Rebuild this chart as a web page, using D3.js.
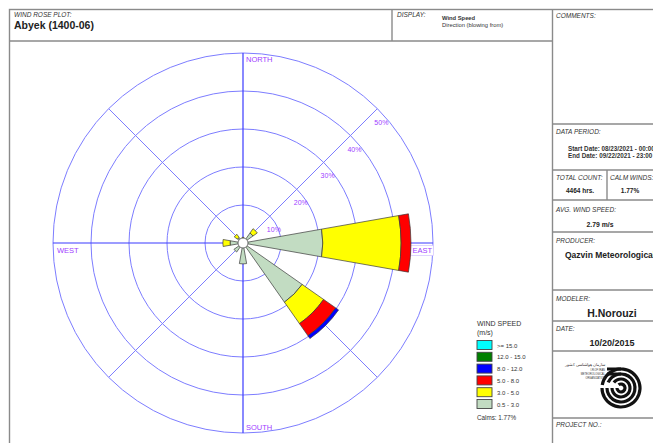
<!DOCTYPE html>
<html>
<head>
<meta charset="utf-8">
<script src="https://cdn.jsdelivr.net/npm/d3@7"></script>
<style>
  body { margin: 0; background: #fff; }
  svg { display: block; font-family: "Liberation Sans", Arial, sans-serif; }
</style>
</head>
<body>
<div class="main"></div>
<script>
const w = 653;
const h = 443;

// 16 compass sectors, clockwise from north
const directions = ["N", "NNE", "NE", "ENE", "E", "ESE", "SE", "SSE",
                    "S", "SSW", "SW", "WSW", "W", "WNW", "NW", "NNW"];

// frequency (%) per speed class and direction
const speed05to3  = [1.0, 0.3, 3.2, 0.4, 21.0, 0.4, 19.0, 0.5, 5.5, 0.3, 2.9, 0.4, 3.4, 0.3, 1.8, 0.5];
const speed3to5   = [0.5, 0,   1.4, 0,   20.6, 0,   6.9,  0,   0,   0,   0,   0,   1.9, 0,   1.0, 0];
const speed5to8   = [0,   0,   0,   0,   2.6,  0,   3.9,  0,   0,   0,   0,   0,   0,   0,   0,   0];
const speed8to12  = [0,   0,   0,   0,   0,    0,   0.9,  0,   0,   0,   0,   0,   0,   0,   0,   0];
const speed12to15 = [0,   0,   0,   0,   0,    0,   0,    0,   0,   0,   0,   0,   0,   0,   0,   0];
const speed15up   = [0,   0,   0,   0,   0,    0,   0,    0,   0,   0,   0,   0,   0,   0,   0,   0];

const speedSeries = [speed05to3, speed3to5, speed5to8, speed8to12, speed12to15, speed15up];
const speedLabels = ["0.5 - 3.0", "3.0 - 5.0", "5.0 - 8.0", "8.0 - 12.0", "12.0 - 15.0", ">= 15.0"];
const speedColors = ["#c2dcc2", "#ffff00", "#ff0000", "#0000ff", "#008000", "#00ffff"];

const ringTicks = [10, 20, 30, 40, 50];
const calmPct = 1.77;

const svg = d3.select(".main").append("svg").attr("width", w).attr("height", h);

// ---------- frame ----------
const frame = svg.append("g").attr("stroke", "#8a8a8a").attr("stroke-width", 1.4).attr("fill", "none");
frame.append("rect").attr("x", 9.5).attr("y", 9.5).attr("width", 720).attr("height", 520);
const hLines = [[9, 552, 41], [552, 700, 124], [552, 700, 170], [552, 700, 200], [552, 700, 232],
                [552, 700, 290], [552, 700, 321], [552, 700, 351], [552, 700, 418]];
hLines.forEach(([x1, x2, y]) => frame.append("line").attr("x1", x1).attr("x2", x2).attr("y1", y).attr("y2", y));
frame.append("line").attr("x1", 392).attr("x2", 392).attr("y1", 9).attr("y2", 41);
frame.append("line").attr("x1", 552.5).attr("x2", 552.5).attr("y1", 9).attr("y2", 450);
frame.append("line").attr("x1", 607).attr("x2", 607).attr("y1", 170).attr("y2", 200);

function label(x, y, txt, opts = {}) {
    return svg.append("text")
        .attr("x", x).attr("y", y)
        .attr("font-size", opts.size || 6.5)
        .attr("font-style", opts.italic ? "italic" : null)
        .attr("font-weight", opts.bold ? "bold" : null)
        .attr("text-anchor", opts.anchor || "start")
        .attr("fill", opts.fill || "#222")
        .text(txt);
}

// header
label(14, 17, "WIND ROSE PLOT:", { italic: true, size: 6.5, fill: "#333" });
label(14, 29, "Abyek (1400-06)", { bold: true, size: 10.5 });
label(397, 17, "DISPLAY:", { italic: true, size: 6.5, fill: "#333" });
label(442, 20, "Wind Speed", { size: 5.8, bold: true, fill: "#333" });
label(442, 27, "Direction (blowing from)", { size: 5.8, fill: "#333" });
label(556, 18, "COMMENTS:", { italic: true, size: 6.5, fill: "#333" });

// right column
label(556, 134, "DATA PERIOD:", { italic: true, fill: "#333" });
label(568, 151, "Start Date: 08/23/2021 - 00:00", { size: 6.3, bold: true, fill: "#333" });
label(568, 158, "End Date: 09/22/2021 - 23:00", { size: 6.3, bold: true, fill: "#333" });
label(556, 180, "TOTAL COUNT:", { italic: true, fill: "#333" });
label(610, 180, "CALM WINDS:", { italic: true, fill: "#333" });
label(580, 193, "4464 hrs.", { anchor: "middle", bold: true, size: 6.5 });
label(630, 193, "1.77%", { anchor: "middle", bold: true, size: 6.5 });
label(556, 212, "AVG. WIND SPEED:", { italic: true, fill: "#333" });
label(600, 227, "2.79 m/s", { anchor: "middle", bold: true, size: 6.8 });
label(556, 243, "PRODUCER:", { italic: true, fill: "#333" });
label(565, 258, "Qazvin Meteorological Organization", { bold: true, size: 8.5 });
label(556, 301, "MODELER:", { italic: true, fill: "#333" });
label(612, 317, "H.Norouzi", { anchor: "middle", bold: true, size: 10.5 });
label(556, 331, "DATE:", { italic: true, fill: "#333" });
label(612, 346, "10/20/2015", { anchor: "middle", bold: true, size: 9 });
label(556, 427, "PROJECT NO.:", { italic: true, fill: "#333" });

// logo: spiral-like rings plus a few text lines
const logo = svg.append("g").attr("transform", "translate(621,388)");
[19, 14, 9, 4].forEach((r, i) => {
    logo.append("path")
        .attr("d", d3.arc()({ innerRadius: r - 1.6, outerRadius: r + 1.6,
                               startAngle: -Math.PI * 0.45 + i * 0.25, endAngle: Math.PI * 1.5 }))
        .attr("fill", "#111");
});
logo.append("rect").attr("x", -14).attr("y", -20.5).attr("width", 14).attr("height", 3).attr("fill", "#111");
logo.append("rect").attr("x", -14).attr("y", -15.5).attr("width", 14).attr("height", 3).attr("fill", "#111");
label(605, 366, "سازمان هواشناسی کشور", { anchor: "end", size: 3.5, fill: "#333" });
label(605, 371, "I.R.OF IRAN", { anchor: "end", size: 2.6, fill: "#333" });
label(605, 375, "METEOROLOGICAL", { anchor: "end", size: 2.6, fill: "#333" });
label(605, 379, "ORGANIZATION", { anchor: "end", size: 2.6, fill: "#333" });

// ---------- wind rose ----------
const cx = 243, cy = 243;
const rScale = d3.scaleLinear().domain([0, 50]).range([0, 190]);
const rose = svg.append("g").attr("transform", `translate(${cx},${cy})`);

// grid rings
rose.selectAll("circle.ring")
    .data(ringTicks)
    .enter()
    .append("circle")
    .attr("class", "ring")
    .attr("r", (d) => rScale(d))
    .attr("fill", "none")
    .attr("stroke", "#7d7dff")
    .attr("stroke-width", 1);

// diagonal spokes
[45, 135, 225, 315].forEach((a) => {
    const rad = (a * Math.PI) / 180;
    rose.append("line")
        .attr("x1", 0).attr("y1", 0)
        .attr("x2", rScale(50) * Math.sin(rad)).attr("y2", -rScale(50) * Math.cos(rad))
        .attr("stroke", "#7d7dff").attr("stroke-width", 1);
});
// main axes
rose.append("line").attr("x1", 0).attr("x2", 0).attr("y1", -rScale(50)).attr("y2", rScale(50))
    .attr("stroke", "#3a3aff").attr("stroke-width", 1.2);
rose.append("line").attr("x1", -rScale(50)).attr("x2", rScale(50)).attr("y1", 0).attr("y2", 0)
    .attr("stroke", "#3a3aff").attr("stroke-width", 1.2);

// ring labels
const s45 = Math.SQRT1_2;
rose.selectAll("text.ringLabel")
    .data(ringTicks)
    .enter()
    .append("text")
    .attr("class", "ringLabel")
    .attr("x", (d) => rScale(d) * s45 - 3)
    .attr("y", (d) => -rScale(d) * s45 + 16)
    .attr("font-size", 7)
    .attr("fill", "#a040ff")
    .text((d) => d + "%");

// compass labels
const compass = [
    { t: "NORTH", x: 3, y: -rScale(50) + 9, anchor: "start" },
    { t: "SOUTH", x: 3, y: rScale(50) - 3, anchor: "start" },
    { t: "WEST", x: -rScale(50) + 4, y: 10, anchor: "start" },
    { t: "EAST", x: rScale(50) - 1, y: 10, anchor: "end" },
];
compass.forEach((c) => {
    const t = rose.append("text")
        .attr("x", c.x).attr("y", c.y)
        .attr("text-anchor", c.anchor)
        .attr("font-size", 7.5)
        .attr("fill", "#a040ff")
        .text(c.t);
    if (c.t === "EAST") {
        const b = t.node().getBBox();
        rose.insert("rect", "text")
            .attr("x", b.x - 1.5).attr("y", b.y - 0.5)
            .attr("width", b.width + 2.5).attr("height", b.height + 1)
            .attr("fill", "#fff").attr("stroke", "#d2c2ff").attr("stroke-width", 0.7);
    }
});

// petals
const halfWidth = (10 * Math.PI) / 180;
const segments = [];
directions.forEach((dir, i) => {
    let cum = 0;
    speedSeries.forEach((series, k) => {
        const v = series[i];
        if (v > 0) {
            segments.push({ dir, i, k, r0: cum, r1: cum + v });
            cum += v;
        }
    });
});
const arc = d3.arc()
    .innerRadius((d) => rScale(d.r0))
    .outerRadius((d) => rScale(d.r1))
    .startAngle((d) => (d.i * 22.5 * Math.PI) / 180 - halfWidth)
    .endAngle((d) => (d.i * 22.5 * Math.PI) / 180 + halfWidth);

rose.selectAll("path.petal")
    .data(segments)
    .enter()
    .append("path")
    .attr("class", "petal")
    .attr("d", arc)
    .attr("fill", (d) => speedColors[d.k])
    .attr("stroke", "#3a3a3a")
    .attr("stroke-width", 0.7);

// calm circle
rose.append("circle").attr("r", 5).attr("fill", "#fff").attr("stroke", "#444").attr("stroke-width", 0.7);

// ---------- legend ----------
const legend = svg.append("g").attr("transform", "translate(477,0)");
legend.append("text").attr("x", 0).attr("y", 326).attr("font-size", 7).attr("fill", "#333").text("WIND SPEED");
legend.append("text").attr("x", 0).attr("y", 335).attr("font-size", 7).attr("fill", "#333").text("(m/s)");
const legendOrder = d3.range(speedLabels.length).reverse();
const ly = d3.scalePoint().domain(legendOrder).range([345, 404]);
legendOrder.forEach((k) => {
    legend.append("rect")
        .attr("x", 0).attr("y", ly(k) - 4.5)
        .attr("width", 15).attr("height", 9)
        .attr("fill", speedColors[k])
        .attr("stroke", "#444").attr("stroke-width", 0.9);
    legend.append("text")
        .attr("x", 20).attr("y", ly(k) + 2.5)
        .attr("font-size", 6)
        .attr("fill", "#333")
        .text(speedLabels[k]);
});
legend.append("text").attr("x", 0).attr("y", 420).attr("font-size", 6.3).attr("fill", "#333")
    .text("Calms: " + calmPct.toFixed(2) + "%");
</script>
</body>
</html>
